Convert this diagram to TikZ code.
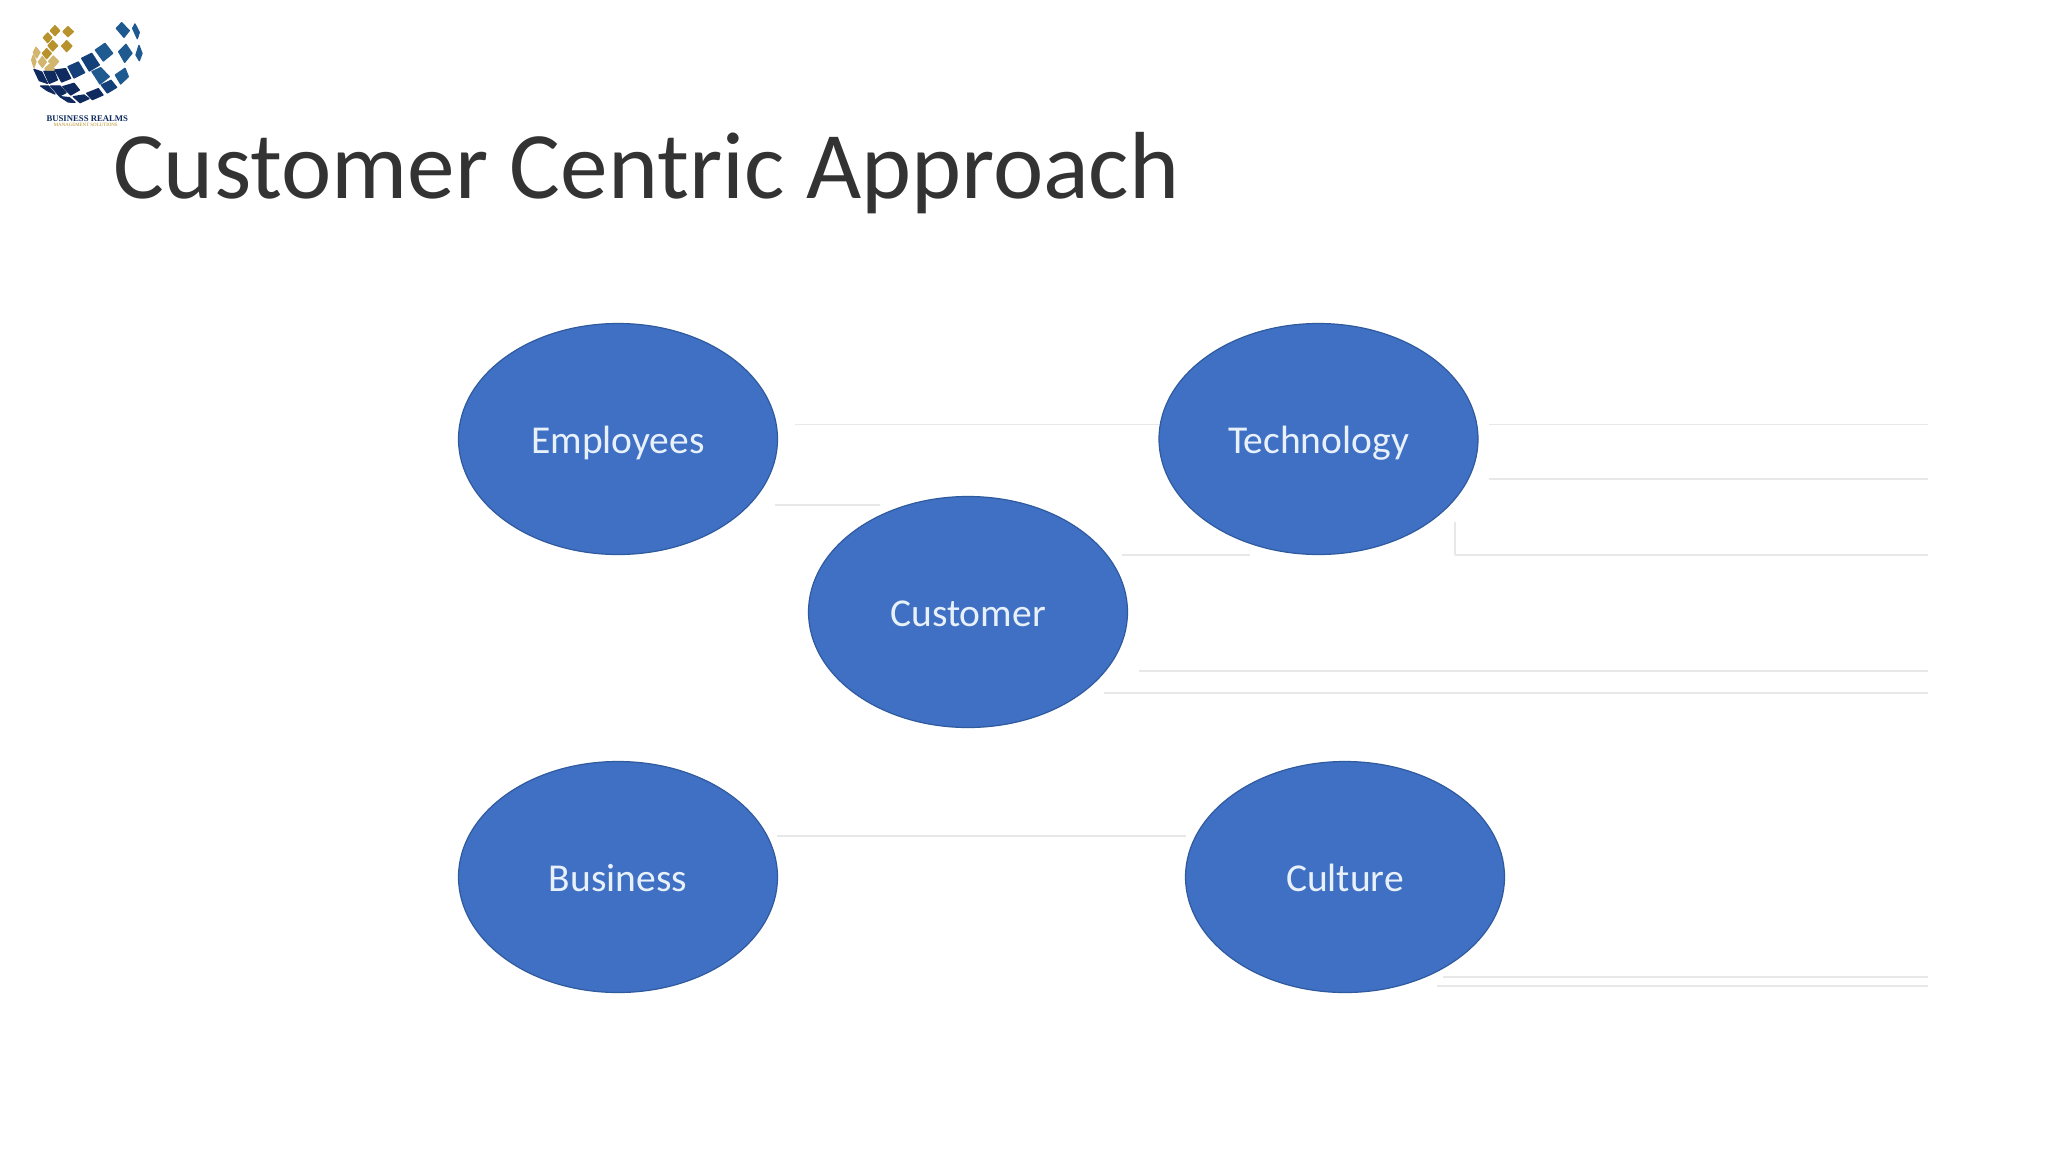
\documentclass[tikz,border=0pt]{standalone}
\usepackage{fontspec}
\setmainfont{Carlito}
\newfontfamily\logofont{Liberation Serif}
\usetikzlibrary{shapes.geometric}
\definecolor{ovalblue}{HTML}{3F70C4}
\definecolor{ovaledge}{HTML}{2F5A9E}
\definecolor{ovaltext}{HTML}{E8F1FA}
\definecolor{ghost}{HTML}{E6E8EA}
\definecolor{titleink}{HTML}{333333}
\definecolor{tilegold}{HTML}{B8922A}
\definecolor{tiletan}{HTML}{D2B56E}
\definecolor{tileblue}{HTML}{1E5A90}
\definecolor{tilemid}{HTML}{14407A}
\definecolor{tilenavy}{HTML}{0E2A5E}
\newcommand\logotile[5]{\filldraw[#1,line width=1.3pt,line join=round] #2 -- #3 -- #4 -- #5 -- cycle;}
\tikzset{
  oval/.style={ellipse,draw=ovaledge,line width=1.2pt,fill=ovalblue,minimum width=319pt,minimum height=231pt,inner sep=0pt,text=ovaltext,text height=36pt,text depth=8pt,font=\fontsize{39.5}{44}\selectfont},
  ghostline/.style={draw=ghost,line width=1.4pt},
}
\begin{document}
\begin{tikzpicture}[x=1pt,y=-1pt]
\useasboundingbox (0,0) rectangle (2048,1152);
\fill[white] (0,0) rectangle (2048,1152);
% logo
\begin{scope}[x=0.3333pt,y=-0.3333pt]
\logotile{tilegold}{(151,92)}{(165,77)}{(179,92)}{(165,107)}
\logotile{tilegold}{(189,95)}{(204,80)}{(220,95)}{(204,110)}
\logotile{tilegold}{(130,113)}{(143,99)}{(156,113)}{(143,128)}
\logotile{tilegold}{(144,137)}{(158,122)}{(173,137)}{(158,153)}
\logotile{tilegold}{(185,138)}{(200,122)}{(216,138)}{(200,155)}
\logotile{tilegold}{(127,160)}{(140,146)}{(154,160)}{(140,176)}
\logotile{tiletan}{(100,157)}{(108,142)}{(120,157)}{(110,174)}
\logotile{tiletan}{(115,186)}{(127,170)}{(139,186)}{(127,202)}
\logotile{tiletan}{(146,184)}{(160,168)}{(176,184)}{(162,200)}
\logotile{tiletan}{(95,180)}{(100,165)}{(108,185)}{(102,202)}
\logotile{tiletan}{(135,205)}{(150,192)}{(168,212)}{(140,214)}
\logotile{tileblue}{(349,85)}{(365,68)}{(388,92)}{(372,112)}
\logotile{tileblue}{(398,85)}{(405,72)}{(418,97)}{(412,116)}
\logotile{tileblue}{(356,155)}{(378,133)}{(396,160)}{(374,187)}
\logotile{tileblue}{(408,165)}{(417,136)}{(426,160)}{(418,182)}
\logotile{tileblue}{(286,150)}{(315,130)}{(338,160)}{(310,183)}
\logotile{tileblue}{(276,215)}{(302,203)}{(328,230)}{(300,252)}
\logotile{tileblue}{(346,225)}{(375,205)}{(385,230)}{(362,252)}
\logotile{tilemid}{(245,175)}{(275,160)}{(298,195)}{(268,213)}
\logotile{tilemid}{(304,255)}{(333,241)}{(350,262)}{(322,279)}
\logotile{tilemid}{(204,200)}{(235,186)}{(254,218)}{(222,234)}
\logotile{tilenavy}{(165,210)}{(197,206)}{(212,235)}{(185,246)}
\logotile{tilenavy}{(132,214)}{(163,215)}{(172,240)}{(148,250)}
\logotile{tilenavy}{(260,280)}{(295,266)}{(309,285)}{(277,299)}
\logotile{tilenavy}{(220,290)}{(252,285)}{(267,296)}{(240,308)}
\logotile{tilenavy}{(188,260)}{(222,250)}{(238,270)}{(212,285)}
\logotile{tilenavy}{(152,258)}{(180,258)}{(198,278)}{(178,288)}
\logotile{tilenavy}{(180,290)}{(208,293)}{(225,307)}{(205,306)}
\logotile{tilenavy}{(122,258)}{(145,258)}{(165,282)}{(142,272)}
\logotile{tilenavy}{(102,208)}{(125,216)}{(142,250)}{(118,242)}
\end{scope}
\node[anchor=base,inner sep=0pt,text=tilenavy] (logoname) at (87.3,121.5) {\logofont\bfseries\fontsize{8.7}{10}\selectfont BUSINESS REALMS};
\node[anchor=base,inner sep=0pt,text=tilegold] (logosub) at (85.8,126.7) {\logofont\fontsize{4.9}{6}\selectfont MANAGEMENT SOLUTIONS};
% title
\node[anchor=base west,inner sep=0pt,text=titleink] (title) at (113,198) {\fontsize{95.3}{112}\selectfont Customer Centric Approach};
% faint lines
\coordinate (g1a) at (795,424.5); \coordinate (g1b) at (1159,424.5);
\coordinate (g2a) at (1489,424.5); \coordinate (g2b) at (1928,424.5);
\coordinate (g3a) at (1489,479); \coordinate (g3b) at (1928,479);
\coordinate (g4a) at (1122,555); \coordinate (g4b) at (1250,555);
\coordinate (g5a) at (1455,555); \coordinate (g5b) at (1928,555);
\coordinate (g6a) at (1139,671); \coordinate (g6b) at (1928,671);
\coordinate (g7a) at (1104,693); \coordinate (g7b) at (1928,693);
\coordinate (g8a) at (777,836); \coordinate (g8b) at (1186,836);
\coordinate (g9a) at (1443,977); \coordinate (g9b) at (1928,977);
\coordinate (g10a) at (1437,986); \coordinate (g10b) at (1928,986);
\coordinate (g11a) at (775,505); \coordinate (g11b) at (880,505);
\coordinate (g12a) at (1455,522); \coordinate (g12b) at (1455,555);
\foreach \i in {1,...,12}{\draw[ghostline] (g\i a) -- (g\i b);}
% ovals
\node[oval] (employees) at (618,439) {Employees};
\node[oval] (technology) at (1318.5,439) {Technology};
\node[oval] (customer) at (968,612) {Customer};
\node[oval] (business) at (618,877) {Business};
\node[oval] (culture) at (1345,877) {Culture};
\end{tikzpicture}
\end{document}
